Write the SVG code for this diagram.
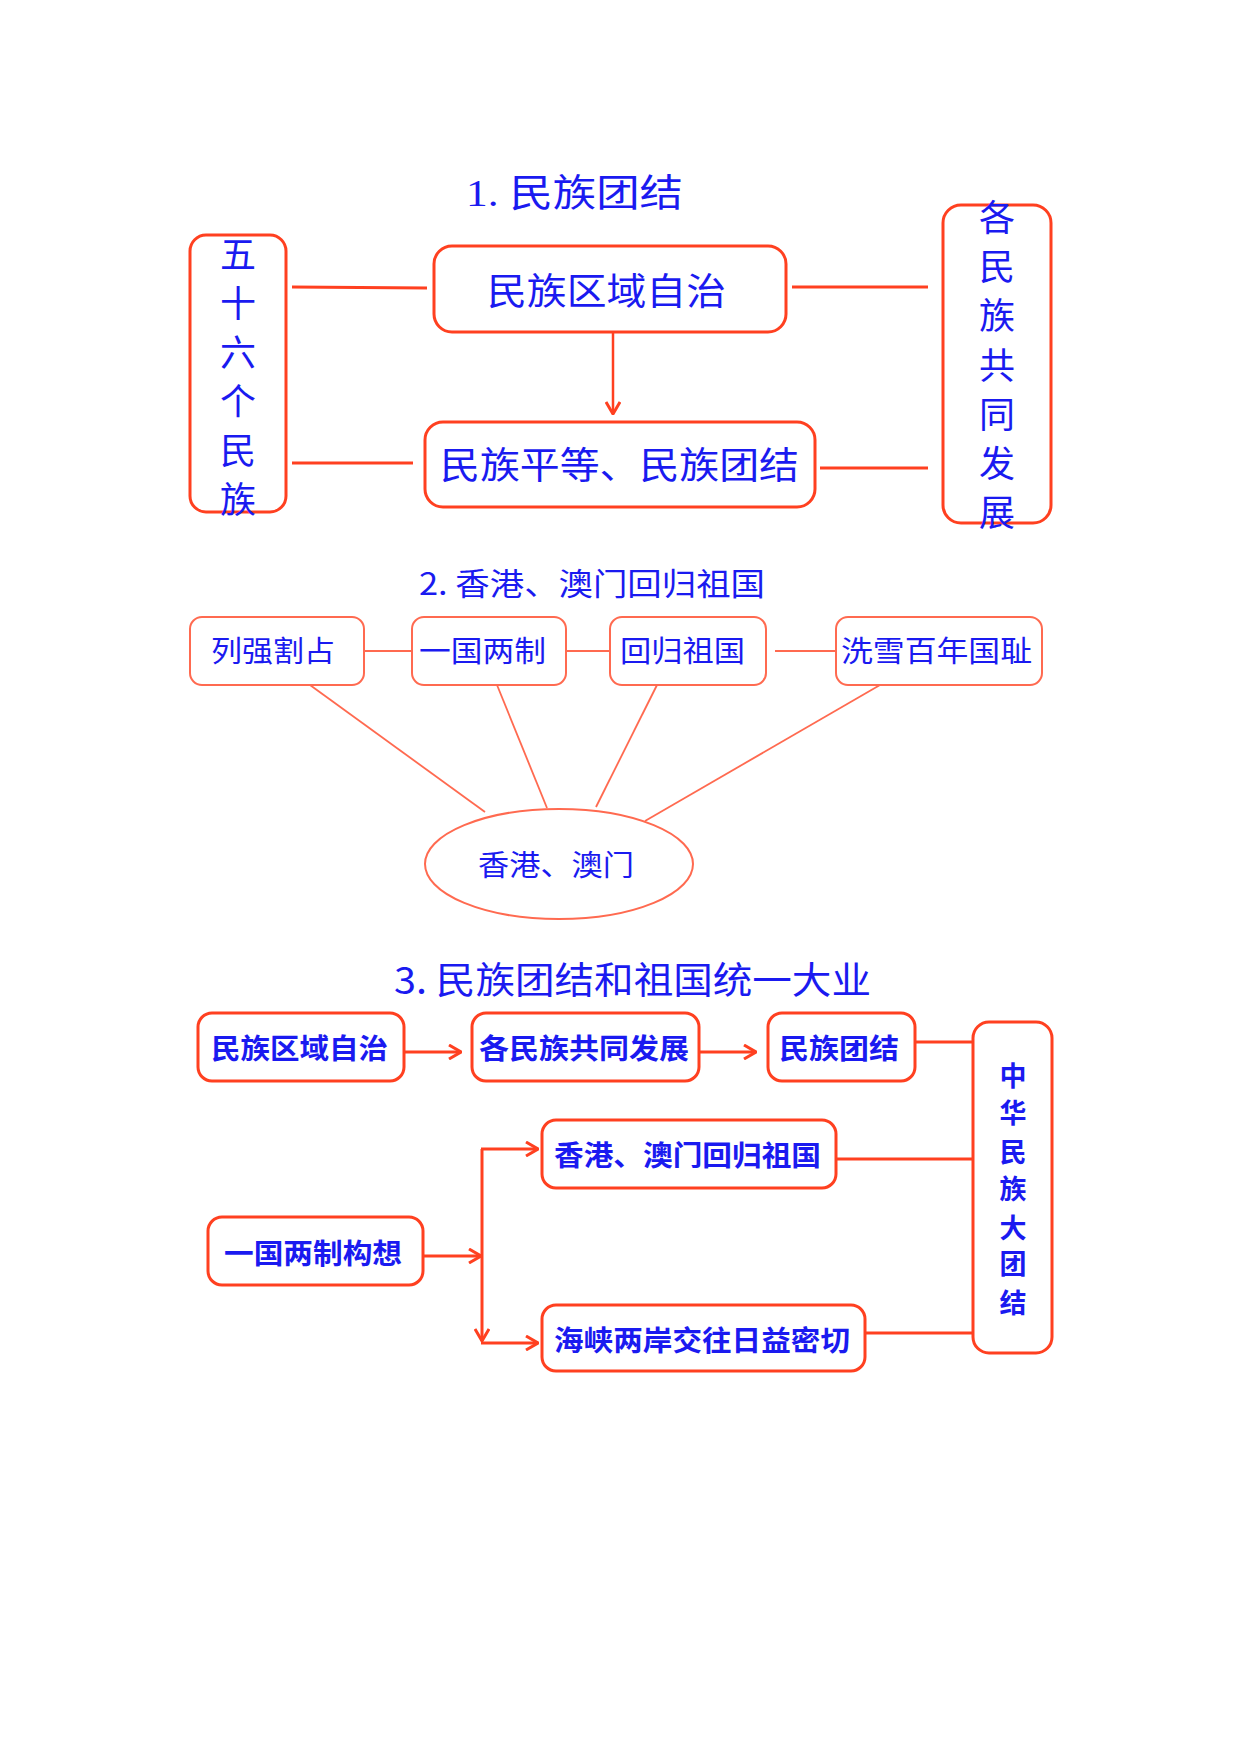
<svg xmlns="http://www.w3.org/2000/svg" width="1240" height="1754" viewBox="0 0 1240 1754">
<defs>
<style>
.bg{fill:#ffffff}
.box{fill:#ffffff;stroke:#ff4020;stroke-width:3}
.box2{fill:#ffffff;stroke:#ff6a50;stroke-width:2}
.ln{stroke:#ff4020;stroke-width:3;fill:none}
.ln2{stroke:#ff6a50;stroke-width:1.8;fill:none}
.t{fill:#1a1af0;font-family:"Noto Sans CJK SC","Noto Sans",sans-serif;dominant-baseline:central}
.ts{fill:#1a1af0;font-family:"Liberation Serif","Noto Sans CJK SC",serif;dominant-baseline:central}
.b{font-weight:bold}
.v{text-anchor:middle}
</style>
<marker id="ah" viewBox="0 0 14 16" refX="13" refY="8" markerWidth="14" markerHeight="16" markerUnits="userSpaceOnUse" orient="auto">
<path d="M1,1 L13,8 L1,15" fill="none" stroke="#ff4020" stroke-width="3"/>
</marker>
</defs>
<rect class="bg" x="0" y="0" width="1240" height="1754"/>

<!-- Section 1 -->
<g id="title1"><text class="ts" x="466" y="193" font-size="38" textLength="217" lengthAdjust="spacingAndGlyphs">1. 民族团结</text></g>
<g id="connectors1">
<line class="ln" x1="292" y1="287" x2="427" y2="288"/>
<line class="ln" x1="292" y1="463" x2="413" y2="463"/>
<line class="ln" x1="792" y1="287" x2="928" y2="287"/>
<line class="ln" x1="820" y1="468" x2="928" y2="468"/>
<line class="ln" x1="613" y1="333" x2="613" y2="414" marker-end="url(#ah)" style="stroke-width:2.5"/>
</g>
<g id="n56">
<rect class="box" x="190" y="235" width="96" height="277" rx="16"/>
<text class="t v" font-size="36" x="238" y="252">五</text>
<text class="t v" font-size="36" x="238" y="301">十</text>
<text class="t v" font-size="36" x="238" y="350">六</text>
<text class="t v" font-size="36" x="238" y="399">个</text>
<text class="t v" font-size="36" x="238" y="448">民</text>
<text class="t v" font-size="36" x="238" y="497">族</text>
</g>
<g id="nDev">
<rect class="box" x="943" y="205" width="108" height="318" rx="18"/>
<text class="t v" font-size="36" x="997" y="215">各</text>
<text class="t v" font-size="36" x="997" y="264">民</text>
<text class="t v" font-size="36" x="997" y="313">族</text>
<text class="t v" font-size="36" x="997" y="363">共</text>
<text class="t v" font-size="36" x="997" y="412">同</text>
<text class="t v" font-size="36" x="997" y="461">发</text>
<text class="t v" font-size="36" x="997" y="510">展</text>
</g>
<g id="nAuto">
<rect class="box" x="434" y="246" width="352" height="86" rx="18"/>
<text class="t" x="487" y="289" font-size="37" textLength="239" lengthAdjust="spacingAndGlyphs">民族区域自治</text>
</g>
<g id="nEq">
<rect class="box" x="425" y="422" width="390" height="85" rx="18"/>
<text class="t" x="440" y="463" font-size="37" textLength="359" lengthAdjust="spacingAndGlyphs">民族平等、民族团结</text>
</g>

<!-- Section 2 -->
<g id="title2"><text class="t" x="419" y="581" font-size="31" textLength="346" lengthAdjust="spacingAndGlyphs">2. 香港、澳门回归祖国</text></g>
<g id="connectors2">
<line class="ln2" x1="364" y1="651" x2="412" y2="651"/>
<line class="ln2" x1="566" y1="651" x2="610" y2="651"/>
<line class="ln2" x1="775" y1="651" x2="836" y2="651"/>
<line class="ln2" x1="310" y1="685" x2="485" y2="812"/>
<line class="ln2" x1="497" y1="685" x2="547" y2="808"/>
<line class="ln2" x1="657" y1="685" x2="596" y2="807"/>
<line class="ln2" x1="880" y1="685" x2="645" y2="821"/>
</g>
<g id="nLie">
<rect class="box2" x="190" y="617" width="174" height="68" rx="12"/>
<text class="t" x="211" y="649" font-size="29" textLength="124" lengthAdjust="spacingAndGlyphs">列强割占</text>
</g>
<g id="nYiguo">
<rect class="box2" x="412" y="617" width="154" height="68" rx="12"/>
<text class="t" x="419" y="649" font-size="29" textLength="127" lengthAdjust="spacingAndGlyphs">一国两制</text>
</g>
<g id="nHuigui">
<rect class="box2" x="610" y="617" width="156" height="68" rx="12"/>
<text class="t" x="620" y="649" font-size="29" textLength="125" lengthAdjust="spacingAndGlyphs">回归祖国</text>
</g>
<g id="nXixue">
<rect class="box2" x="836" y="617" width="206" height="68" rx="12"/>
<text class="t" x="841" y="649" font-size="29" textLength="191" lengthAdjust="spacingAndGlyphs">洗雪百年国耻</text>
</g>
<g id="nHKM">
<ellipse class="box2" cx="559" cy="864" rx="134" ry="55"/>
<text class="t" x="478" y="863" font-size="29" textLength="156" lengthAdjust="spacingAndGlyphs">香港、澳门</text>
</g>

<!-- Section 3 -->
<g id="title3"><text class="t" x="394" y="978" font-size="37" textLength="477" lengthAdjust="spacingAndGlyphs">3. 民族团结和祖国统一大业</text></g>
<g id="connectors3">
<line class="ln" x1="404" y1="1052" x2="461" y2="1052" marker-end="url(#ah)"/>
<line class="ln" x1="699" y1="1052" x2="756" y2="1052" marker-end="url(#ah)"/>
<line class="ln" x1="915" y1="1042" x2="973" y2="1042"/>
<line class="ln" x1="836" y1="1159" x2="973" y2="1159"/>
<line class="ln" x1="865" y1="1333" x2="973" y2="1333"/>
<line class="ln" x1="423" y1="1256" x2="481" y2="1256" marker-end="url(#ah)"/>
<line class="ln" x1="482" y1="1149" x2="482" y2="1341" marker-end="url(#ah)"/>
<line class="ln" x1="481" y1="1149" x2="538" y2="1149" marker-end="url(#ah)"/>
<line class="ln" x1="481" y1="1343" x2="538" y2="1343" marker-end="url(#ah)"/>
</g>
<g id="nAuto3">
<rect class="box" x="198" y="1013" width="206" height="68" rx="14"/>
<text class="t b" x="211" y="1047" font-size="28" textLength="177" lengthAdjust="spacingAndGlyphs">民族区域自治</text>
</g>
<g id="nDev3">
<rect class="box" x="472" y="1013" width="227" height="68" rx="14"/>
<text class="t b" x="479" y="1047" font-size="28" textLength="210" lengthAdjust="spacingAndGlyphs">各民族共同发展</text>
</g>
<g id="nUnity3">
<rect class="box" x="768" y="1013" width="147" height="68" rx="14"/>
<text class="t b" x="779" y="1047" font-size="28" textLength="120" lengthAdjust="spacingAndGlyphs">民族团结</text>
</g>
<g id="nGreat">
<rect class="box" x="973" y="1022" width="79" height="331" rx="16"/>
<text class="t b v" font-size="27" x="1013" y="1074">中</text>
<text class="t b v" font-size="27" x="1013" y="1111">华</text>
<text class="t b v" font-size="27" x="1013" y="1150">民</text>
<text class="t b v" font-size="27" x="1013" y="1187">族</text>
<text class="t b v" font-size="27" x="1013" y="1226">大</text>
<text class="t b v" font-size="27" x="1013" y="1262">团</text>
<text class="t b v" font-size="27" x="1013" y="1301">结</text>
</g>
<g id="nHK3">
<rect class="box" x="542" y="1120" width="294" height="68" rx="14"/>
<text class="t b" x="554" y="1154" font-size="28" textLength="267" lengthAdjust="spacingAndGlyphs">香港、澳门回归祖国</text>
</g>
<g id="nStrait">
<rect class="box" x="542" y="1305" width="323" height="66" rx="14"/>
<text class="t b" x="554" y="1339" font-size="28" textLength="296" lengthAdjust="spacingAndGlyphs">海峡两岸交往日益密切</text>
</g>
<g id="nOne">
<rect class="box" x="208" y="1217" width="215" height="68" rx="14"/>
<text class="t b" x="224" y="1252" font-size="28" textLength="178" lengthAdjust="spacingAndGlyphs">一国两制构想</text>
</g>
</svg>
